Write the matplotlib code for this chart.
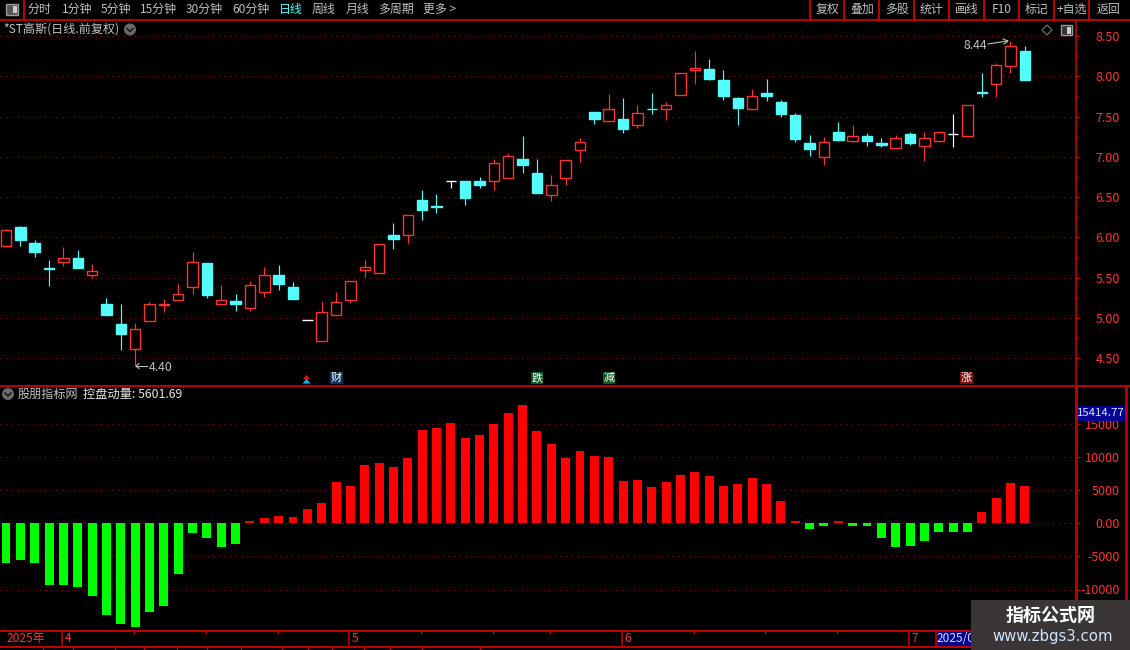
import matplotlib
matplotlib.use("Agg")
import matplotlib.pyplot as plt
from matplotlib.patches import Rectangle, Circle, Polygon

plt.rcParams['font.family'] = ['Noto Sans CJK SC', 'DejaVu Sans']

# ---------- data ----------
opens = [5.90,6.13,5.93,5.62,5.69,5.75,5.53,5.18,4.93,4.62,4.97,5.16,5.23,5.38,5.68,5.17,5.21,5.13,5.33,5.53,5.39,4.98,4.71,5.04,
         5.22,5.60,5.56,6.03,6.03,6.47,6.39,6.70,6.70,6.70,6.70,6.74,6.97,6.80,6.53,6.74,7.09,7.56,7.44,7.47,7.40,7.60,7.60,7.77,
         8.08,8.09,7.95,7.73,7.60,7.79,7.68,7.52,7.17,7.00,7.31,7.20,7.26,7.17,7.11,7.28,7.13,7.20,7.29,7.26,7.80,7.90,8.13,8.31]
closes = [6.09,5.97,5.82,5.61,5.75,5.62,5.59,5.04,4.80,4.87,5.17,5.18,5.30,5.69,5.29,5.23,5.18,5.41,5.54,5.42,5.24,4.98,5.07,5.20,
          5.46,5.63,5.92,5.98,6.28,6.34,6.38,6.70,6.49,6.65,6.92,7.01,6.90,6.55,6.65,6.96,7.19,7.47,7.59,7.35,7.55,7.59,7.65,8.04,
          8.10,7.97,7.76,7.61,7.75,7.76,7.53,7.22,7.10,7.18,7.21,7.26,7.20,7.15,7.24,7.17,7.24,7.31,7.29,7.65,7.79,8.14,8.37,7.95]
highs = [6.11,6.14,5.97,5.72,5.88,5.85,5.67,5.25,5.18,4.94,5.20,5.24,5.42,5.82,5.68,5.41,5.30,5.46,5.63,5.66,5.45,4.98,5.21,5.32,
         5.46,5.72,5.92,6.18,6.28,6.59,6.54,6.70,6.70,6.75,6.97,7.05,7.26,6.97,6.78,6.96,7.23,7.56,7.78,7.73,7.64,7.79,7.68,8.04,
         8.31,8.21,8.08,7.74,7.84,7.97,7.71,7.54,7.27,7.25,7.43,7.40,7.30,7.23,7.27,7.31,7.31,7.31,7.53,7.65,8.04,8.16,8.44,8.38]
lows = [5.90,5.89,5.76,5.40,5.65,5.62,5.50,5.04,4.60,4.40,4.97,5.08,5.23,5.30,5.25,5.17,5.09,5.09,5.26,5.35,5.24,4.98,4.71,5.04,
        5.19,5.51,5.56,5.86,5.93,6.22,6.30,6.61,6.40,6.61,6.59,6.74,6.80,6.55,6.45,6.65,6.94,7.41,7.44,7.30,7.36,7.53,7.46,7.77,
        7.90,7.95,7.71,7.40,7.60,7.69,7.49,7.18,7.01,6.90,7.20,7.18,7.14,7.12,7.11,7.15,6.95,7.18,7.12,7.26,7.74,7.74,8.04,7.95]
momentum = [-6010,-5556,-6010,-9343,-9343,-9646,-11010,-13889,-15253,-15707,-13434,-12525,-7677,-1465,-2222,-3586,-3131,
            280,760,1060,900,2120,3030,6263,5657,8838,9141,8535,9899,14141,14444,15202,12929,13383,15050,16717,17929,13990,
            12020,9899,10960,10202,10050,6414,6566,5505,6262,7323,7778,7171,5656,5959,6868,5959,3383,350,-860,-400,350,-400,
            -400,-2222,-3586,-3434,-2676,-1313,-1313,-1313,1717,3838,6110,5601.69]

price_ticks = [4.5,5.0,5.5,6.0,6.5,7.0,7.5,8.0,8.5]
price_labels = ['4.50','5.00','5.50','6.00','6.50','7.00','7.50','8.00','8.50']
ind_ticks = [-10000,-5000,0,5000,10000,15000]
ind_labels = ['-10000','-5000','0.00','5000','10000','15000']
month_labels = ['4','5','6','7']
month_index = [4,24,43,63]
week_index = [9,14,19,29,34,38,48,53,58,68]
left_tools = ['分时','1分钟','5分钟','15分钟','30分钟','60分钟','日线','周线','月线','多周期','更多 >']
right_tools = ['复权','叠加','多股','统计','画线','F10','标记','+自选','返回']
events = [('财',23,'#0F3560','white'),('跌',37,'#0E5A20','white'),('减',42,'#0E5A20','white'),('涨',67,'#7A1010','white')]

RED, CYAN, LINE, GRID, GREY = '#FF3232', '#54FCFC', '#C00000', '#800000', '#C0C0C0'
W, H = 1130, 650
n = len(opens)
xs = list(range(n))
XLIM = (-6/14.35, (1075-6)/14.35)

fig = plt.figure(figsize=(W/100, H/100), dpi=100, facecolor='black')
def panel(x0, y0, x1, y1):
    a = fig.add_axes([x0/W, 1-y1/H, (x1-x0)/W, (y1-y0)/H], facecolor='black')
    a.set_xlim(*XLIM)
    for s in a.spines.values():
        s.set_visible(False)
    a.set_xticks([])
    return a

def right_axis(a, ticks, labels, minor, fs):
    a.yaxis.tick_right()
    a.set_yticks(ticks, labels)
    a.set_yticks(minor, minor=True)
    a.tick_params(axis='y', which='major', length=3.6, width=1, color=LINE, labelcolor=RED,
                  pad=28.8, labelsize=fs, right=True)
    a.tick_params(axis='y', which='minor', length=2.2, width=1, color=LINE, right=True, left=False)
    for t in a.get_yticklabels():
        t.set_ha('right')
    a.grid(axis='y', which='major', color=GRID, lw=0.72, linestyle=(0, (1.4, 4.2)))
    a.set_axisbelow(True)

# ---------- price panel ----------
ax = panel(0, 20, 1075, 385)
ax.set_ylim(8-(385-76.3)/80.6, 8+(76.3-20)/80.6)
right_axis(ax, price_ticks, price_labels, [p+0.25 for p in price_ticks[:-1]], 9)
for i in xs:
    o, c, h, l = opens[i], closes[i], highs[i], lows[i]
    col = RED if c > o else (CYAN if c < o else 'white')
    top, bot = max(o, c), min(o, c)
    ax.vlines(i, top, h, color=col, lw=0.85, zorder=3)
    ax.vlines(i, l, bot, color=col, lw=0.85, zorder=3)
    ax.bar(i, top-bot, bottom=bot, width=0.73, facecolor=('black' if c >= o else col), edgecolor=col,
           linewidth=1.0, zorder=4)

# ---------- indicator panel ----------
ax2 = panel(0, 386, 1075, 630)
ax2.set_ylim(-(630-523.3)/0.00662, (523.3-386)/0.00662)
right_axis(ax2, ind_ticks, ind_labels, [-12500,-7500,-2500,2500,7500,12500], 9)
ax2.bar(xs, momentum, width=0.627, color=['#FF0000' if v > 0 else '#00FF00' for v in momentum], zorder=3)

# ---------- date bar ----------
ax3 = panel(0, 631, 1075, 646)
ax3.set_ylim(1, 0)
ax3.set_yticks([])
ax3.vlines([m-0.08 for m in month_index], 0, 1, color=LINE, lw=1.2)
ax3.vlines([m-0.08 for m in week_index], 0, 0.2, color=LINE, lw=1)
for m, lab in zip(month_index, month_labels):
    ax3.text(m+0.1, 0.52, lab, color=RED, fontsize=8.5, va='center', ha='left')

# ---------- chrome in pixel coordinates ----------
ov = fig.add_axes([0, 0, 1, 1], facecolor='none', zorder=10)
ov.set_xlim(0, W); ov.set_ylim(H, 0); ov.axis('off')
def hl(y, x0=0, x1=W, lw=1.4): ov.plot([x0, x1], [y, y], color=LINE, lw=lw, solid_capstyle='butt')
def vl(x, y0, y1, lw=1.4): ov.plot([x, x], [y0, y1], color=LINE, lw=lw, solid_capstyle='butt')

hl(19.5); hl(385.5); hl(630.5); hl(646.5)
vl(23.5, 0, 19)
for x in [810, 844, 879.3, 914, 949.3, 984, 1019.3, 1054, 1088.7]:
    vl(x, 0, 19)
vl(1075.5, 19, 385, 1.2); vl(1076, 385, 646, 2); vl(1126, 385, 630, 2)
vl(935.5, 631, 646, 1.2)

left_x = [28, 62, 101, 140, 186, 232, 279, 312, 346, 378, 423]
for x, t in zip(left_x, left_tools):
    ov.text(x, 9.5, t, color=(CYAN if t == '日线' else GREY), fontsize=8.6, va='center', ha='left')
right_x = [827.5, 862, 896.5, 931.5, 967, 1002, 1037, 1071.5, 1108]
for x, t in zip(right_x, right_tools):
    ov.text(x, 9.5, t, color=GREY, fontsize=8.6, va='center', ha='center')

# toolbar / pane icons
ov.add_patch(Rectangle((6, 4), 12, 11, fc='#555555', ec='#999999', lw=1))
ov.add_patch(Rectangle((13, 6), 3.5, 7, fc='#cccccc', ec='none'))
ov.add_patch(Rectangle((1061, 25), 11, 10, fc='#333333', ec='#999999', lw=1))
ov.add_patch(Rectangle((1067, 26.5), 3.5, 7, fc='#cccccc', ec='none'))
ov.add_patch(Polygon([(1047, 25), (1052, 30), (1047, 35), (1042, 30)], fc='none', ec='#777777', lw=0.8))

def circ(x, y):
    ov.add_patch(Circle((x, y), 6, fc='#6A6A6A', ec='none'))
    ov.plot([x-3, x, x+3], [y-1, y+2, y-1], color='#111111', lw=1)
circ(130, 29.5); circ(8, 394)

ov.text(3, 29.5, '*ST高斯(日线.前复权)', color=GREY, fontsize=8.7, va='center', ha='left')
ov.text(18, 394, '股朋指标网', color=GREY, fontsize=8.7, va='center', ha='left')
ov.text(83, 394, '控盘动量: 5601.69', color='#E6E6E6', fontsize=8.8, va='center', ha='left')

# high / low annotations
ov.text(149, 367.5, '4.40', color=GREY, fontsize=8.8, va='center', ha='left')
ov.plot([136, 147], [366, 366], color=GREY, lw=0.8)
ov.plot([139, 136, 139], [363.5, 366, 368.5], color=GREY, lw=0.8)
ov.text(963, 45.5, '8.44', color=GREY, fontsize=8.8, va='center', ha='left')
ov.plot([988, 1007], [44, 41], color=GREY, lw=0.8)
ov.plot([1003, 1008, 1004], [39, 41, 44], color=GREY, lw=0.8)

# event flags
for lab, idx, bg, fg in events:
    x = 6 + 14.35*idx + (0 if idx != 67 else -1)
    ov.add_patch(Rectangle((x-6, 371.5), 12.5, 12.5, fc=bg, ec='none'))
    ov.text(x, 377.7, lab, color=fg, fontsize=8, va='center', ha='center')
ov.add_patch(Polygon([(306.5, 375), (303, 379), (310, 379)], fc='#E01010', ec='none'))
ov.add_patch(Polygon([(306.5, 379), (302.5, 383.5), (310.5, 383.5)], fc='#20B0F0', ec='none'))

# bottom bar
ov.text(7, 638.5, '2025年', color=RED, fontsize=8.6, va='center', ha='left')
ov.add_patch(Rectangle((936, 632), 36, 13.5, fc='#000090', ec='none'))
ov.text(937, 638.5, '2025/07', color='#D8E0FF', fontsize=8.6, va='center', ha='left')
for x in [42.7, 73.3, 115.3, 144.3, 177.3, 207.3, 241.3, 282.3, 308.3, 332.3, 364.3, 390.3, 422.3, 480.3]:
    vl(x, 646, 650, 1)

# current value box
ov.add_patch(Rectangle((1077, 405.5), 48, 15.5, fc='#000090', ec='none'))
ov.text(1101, 413, '15414.77', color='#D8E8FF', fontsize=8.2, va='center', ha='center')

# watermark
ov.add_patch(Rectangle((971, 600), 159, 50, fc='#3A3636', ec='none', zorder=20))
ov.text(1050.5, 615.5, '指标公式网', color='white', fontsize=13, fontweight='bold', va='center', ha='center', zorder=21)
ov.text(1053, 636, 'www.zbgs3.com', color='#CFE4FF', fontsize=10.7, va='center', ha='center',
        family=['DejaVu Sans'], zorder=21)

fig.savefig('out.png', dpi=100, facecolor='black')
